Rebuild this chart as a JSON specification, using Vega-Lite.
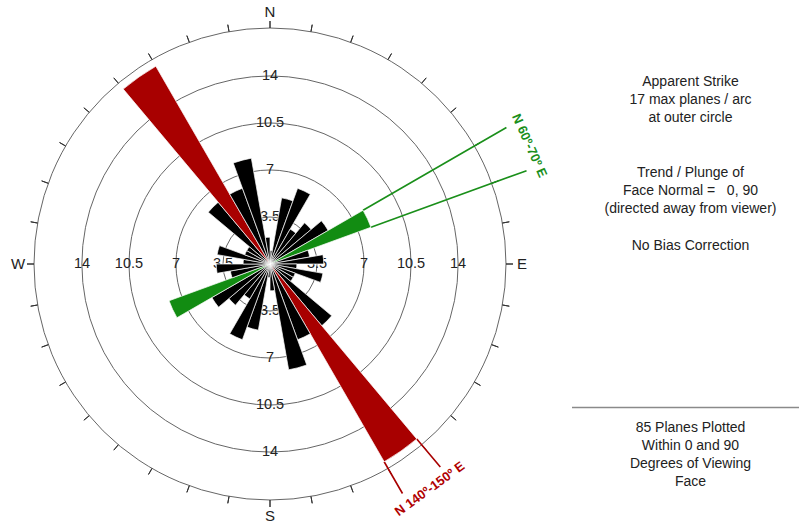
{
  "$schema": "https://vega.github.io/schema/vega-lite/v6.json",
  "autosize": {"type": "pad"},
  "padding": {"left": 0, "top": 7, "right": 0, "bottom": 0},
  "bounds": "flush",
  "spacing": 32,
  "config": {"view": {"stroke": null}, "font": "Liberation Sans"},
  "datasets": {
    "bins": [
      {"start": 0, "end": 10, "count": 1, "kind": "normal"},
      {"start": 10, "end": 20, "count": 5, "kind": "normal"},
      {"start": 20, "end": 30, "count": 6, "kind": "normal"},
      {"start": 30, "end": 40, "count": 3, "kind": "normal"},
      {"start": 40, "end": 50, "count": 4, "kind": "normal"},
      {"start": 50, "end": 60, "count": 5, "kind": "normal"},
      {"start": 60, "end": 70, "count": 8, "kind": "selected"},
      {"start": 70, "end": 80, "count": 3, "kind": "normal"},
      {"start": 80, "end": 90, "count": 4, "kind": "normal"},
      {"start": 90, "end": 100, "count": 2, "kind": "normal"},
      {"start": 100, "end": 110, "count": 4, "kind": "normal"},
      {"start": 110, "end": 120, "count": 2, "kind": "normal"},
      {"start": 120, "end": 130, "count": 2, "kind": "normal"},
      {"start": 130, "end": 140, "count": 6, "kind": "normal"},
      {"start": 140, "end": 150, "count": 17, "kind": "max"},
      {"start": 150, "end": 160, "count": 6, "kind": "normal"},
      {"start": 160, "end": 170, "count": 8, "kind": "normal"},
      {"start": 170, "end": 180, "count": 2, "kind": "normal"},
      {"start": 180, "end": 190, "count": 1, "kind": "normal"},
      {"start": 190, "end": 200, "count": 5, "kind": "normal"},
      {"start": 200, "end": 210, "count": 6, "kind": "normal"},
      {"start": 210, "end": 220, "count": 3, "kind": "normal"},
      {"start": 220, "end": 230, "count": 4, "kind": "normal"},
      {"start": 230, "end": 240, "count": 5, "kind": "normal"},
      {"start": 240, "end": 250, "count": 8, "kind": "selected"},
      {"start": 250, "end": 260, "count": 3, "kind": "normal"},
      {"start": 260, "end": 270, "count": 4, "kind": "normal"},
      {"start": 270, "end": 280, "count": 2, "kind": "normal"},
      {"start": 280, "end": 290, "count": 4, "kind": "normal"},
      {"start": 290, "end": 300, "count": 2, "kind": "normal"},
      {"start": 300, "end": 310, "count": 2, "kind": "normal"},
      {"start": 310, "end": 320, "count": 6, "kind": "normal"},
      {"start": 320, "end": 330, "count": 17, "kind": "max"},
      {"start": 330, "end": 340, "count": 6, "kind": "normal"},
      {"start": 340, "end": 350, "count": 8, "kind": "normal"},
      {"start": 350, "end": 360, "count": 2, "kind": "normal"}
    ],
    "rings": [{"value": 3.5}, {"value": 7}, {"value": 10.5}, {"value": 14}, {"value": 17.57}],
    "ringLabels": [
      {"bearing": 0, "value": 3.5, "label": "3.5"}, {"bearing": 0, "value": 7, "label": "7"}, {"bearing": 0, "value": 10.5, "label": "10.5"}, {"bearing": 0, "value": 14, "label": "14"},
      {"bearing": 90, "value": 3.5, "label": "3.5"}, {"bearing": 90, "value": 7, "label": "7"}, {"bearing": 90, "value": 10.5, "label": "10.5"}, {"bearing": 90, "value": 14, "label": "14"},
      {"bearing": 180, "value": 3.5, "label": "3.5"}, {"bearing": 180, "value": 7, "label": "7"}, {"bearing": 180, "value": 10.5, "label": "10.5"}, {"bearing": 180, "value": 14, "label": "14"},
      {"bearing": 270, "value": 3.5, "label": "3.5"}, {"bearing": 270, "value": 7, "label": "7"}, {"bearing": 270, "value": 10.5, "label": "10.5"}, {"bearing": 270, "value": 14, "label": "14"}
    ],
    "compass": [
      {"bearing": 0, "label": "N"}, {"bearing": 90, "label": "E"}, {"bearing": 180, "label": "S"}, {"bearing": 270, "label": "W"}
    ],
    "ticks": [
      {"bearing": 0}, {"bearing": 10}, {"bearing": 20}, {"bearing": 30}, {"bearing": 40}, {"bearing": 50},
      {"bearing": 60}, {"bearing": 70}, {"bearing": 80}, {"bearing": 90}, {"bearing": 100}, {"bearing": 110},
      {"bearing": 120}, {"bearing": 130}, {"bearing": 140}, {"bearing": 150}, {"bearing": 160}, {"bearing": 170},
      {"bearing": 180}, {"bearing": 190}, {"bearing": 200}, {"bearing": 210}, {"bearing": 220}, {"bearing": 230},
      {"bearing": 240}, {"bearing": 250}, {"bearing": 260}, {"bearing": 270}, {"bearing": 280}, {"bearing": 290},
      {"bearing": 300}, {"bearing": 310}, {"bearing": 320}, {"bearing": 330}, {"bearing": 340}, {"bearing": 350}
    ],
    "greenLines": [{"bearing": 60, "count": 8}, {"bearing": 70, "count": 8}],
    "redLines": [{"bearing": 140, "count": 17}, {"bearing": 150, "count": 17}],
    "notes": [
      {"block": "strike", "text": "Apparent Strike\n17 max planes / arc\nat outer circle"},
      {"block": "normal", "text": "Trend / Plunge of\nFace Normal =\u00a0\u00a0\u00a00, 90\n(directed away from viewer)"},
      {"block": "bias", "text": "No Bias Correction"},
      {"block": "count", "text": "85 Planes Plotted\nWithin 0 and 90\nDegrees of Viewing\nFace"}
    ]
  },
  "hconcat": [
    {
      "width": 540,
      "height": 514,
      "layer": [
        {
          "data": {"name": "rings"},
          "mark": {"type": "arc", "filled": false, "stroke": "#666666", "strokeWidth": 1, "theta": 0, "theta2": 6.2832},
          "encoding": {
            "radius": {"field": "value", "type": "quantitative", "stack": null, "scale": {"type": "linear", "domain": [0, 17.57], "range": [0, 236], "zero": true, "nice": false}}
          }
        },
        {
          "data": {"name": "ticks"},
          "mark": {"type": "arc", "filled": false, "stroke": "#333333", "strokeWidth": 1, "radius": 243, "radius2": 236},
          "encoding": {
            "theta": {"field": "bearing", "type": "quantitative", "stack": null, "scale": {"type": "linear", "domain": [0, 360], "range": [0, 6.283185307179586]}},
            "theta2": {"field": "bearing"}
          }
        },
        {
          "data": {"name": "ringLabels"},
          "mark": {"type": "text", "fontSize": 14.5, "color": "#222222", "align": "center", "baseline": "middle"},
          "encoding": {
            "theta": {"field": "bearing", "type": "quantitative", "stack": null},
            "radius": {"field": "value", "type": "quantitative", "stack": null},
            "text": {"field": "label", "type": "nominal"}
          }
        },
        {
          "data": {"name": "compass"},
          "mark": {"type": "text", "fontSize": 15, "color": "#222222", "align": "center", "baseline": "middle", "radius": 252, "clip": true},
          "encoding": {
            "theta": {"field": "bearing", "type": "quantitative", "stack": null},
            "text": {"field": "label", "type": "nominal"}
          }
        },
        {
          "data": {"name": "greenLines"},
          "mark": {"type": "arc", "filled": false, "stroke": "#1a8f1a", "strokeWidth": 1.6, "radius2": 273},
          "encoding": {
            "theta": {"field": "bearing", "type": "quantitative", "stack": null},
            "theta2": {"field": "bearing"},
            "radius": {"field": "count", "type": "quantitative", "stack": null}
          }
        },
        {
          "data": {"name": "redLines"},
          "mark": {"type": "arc", "filled": false, "stroke": "#a80000", "strokeWidth": 1.6, "radius2": 265},
          "encoding": {
            "theta": {"field": "bearing", "type": "quantitative", "stack": null},
            "theta2": {"field": "bearing"},
            "radius": {"field": "count", "type": "quantitative", "stack": null}
          }
        },
        {
          "data": {"name": "bins"},
          "mark": {"type": "arc", "stroke": "#ffffff", "strokeWidth": 0.7},
          "encoding": {
            "theta": {"field": "start", "type": "quantitative", "stack": null},
            "theta2": {"field": "end"},
            "radius": {"field": "count", "type": "quantitative", "stack": null},
            "color": {"field": "kind", "type": "nominal", "legend": null, "scale": {"domain": ["normal", "max", "selected"], "range": ["#000000", "#a80000", "#128c12"]}}
          }
        },
        {
          "data": {"values": [{"label": "N 60º-70º E", "bearing": 65.5}]},
          "mark": {"type": "text", "fontSize": 13, "fontWeight": "bold", "color": "#1a8f1a", "align": "center", "baseline": "middle", "angle": 66, "radius": 285},
          "encoding": {
            "theta": {"field": "bearing", "type": "quantitative", "stack": null},
            "text": {"field": "label", "type": "nominal"}
          }
        },
        {
          "data": {"values": [{"label": "N 140º-150º E", "bearing": 144.6}]},
          "mark": {"type": "text", "fontSize": 13, "fontWeight": "bold", "color": "#b00000", "align": "center", "baseline": "middle", "angle": 324, "radius": 276},
          "encoding": {
            "theta": {"field": "bearing", "type": "quantitative", "stack": null},
            "text": {"field": "label", "type": "nominal"}
          }
        }
      ]
    },
    {
      "width": 227,
      "height": 514,
      "layer": [
        {
          "data": {"values": [{"block": "divider"}]},
          "mark": {"type": "rule", "stroke": "#8a8a8a", "strokeWidth": 1.5},
          "encoding": {
            "y": {
              "field": "block",
              "type": "ordinal",
              "axis": null,
              "scale": {
                "type": "point",
                "padding": 0,
                "domain": [
                  "strike", "g1", "g2", "g3", "g4", "g5", "g6", "g7", "g8", "g9", "g10", "g11", "g12", "g13", "g14",
                  "normal", "g16", "g17", "g18", "g19", "g20", "g21", "g22", "g23", "g24", "g25", "g26",
                  "bias", "g28", "g29", "g30", "g31", "g32", "g33", "g34", "g35", "g36", "g37", "g38", "g39", "g40",
                  "g41", "g42", "g43", "g44", "g45", "g46", "g47", "g48", "g49", "g50", "g51", "g52",
                  "divider", "g54", "g55", "g56", "count"
                ],
                "range": [79, 424.8]
              }
            }
          }
        },
        {
          "data": {"name": "notes"},
          "mark": {"type": "text", "fontSize": 14, "color": "#222222", "align": "center", "baseline": "alphabetic", "lineBreak": "\n", "lineHeight": 18.2, "dx": 5},
          "encoding": {
            "y": {"field": "block", "type": "ordinal", "axis": null},
            "text": {"field": "text", "type": "nominal"}
          }
        }
      ]
    }
  ]
}
